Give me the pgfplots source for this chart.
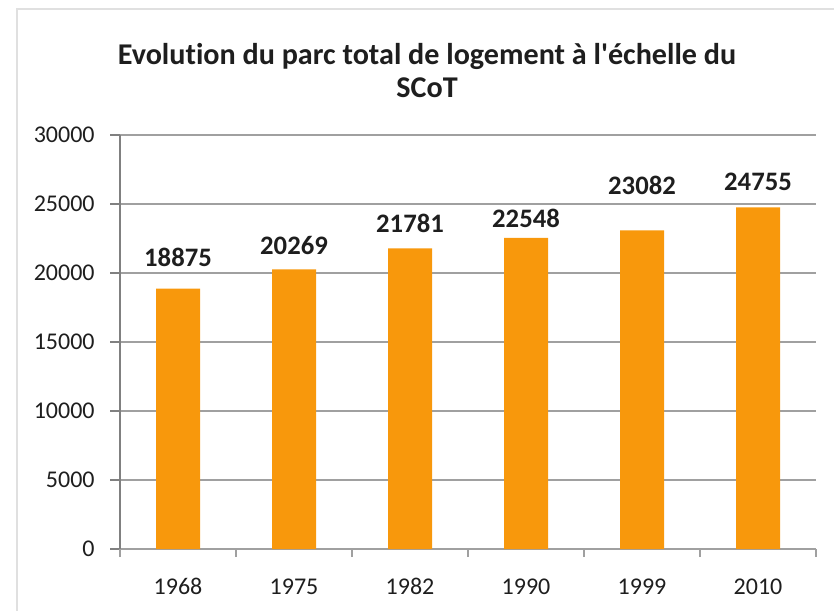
\documentclass[border=0pt]{standalone}
\usepackage{pgfplots}
\pgfplotsset{compat=1.18}
\usepackage{fontspec}
\setmainfont{Carlito}[Ligatures={NoCommon}]
\definecolor{barorange}{RGB}{248,152,12}
\definecolor{gridgray}{RGB}{160,160,160}
\definecolor{axisgray}{RGB}{128,128,128}
\definecolor{txt}{RGB}{30,30,30}
\begin{document}
\begin{tikzpicture}
\path[use as bounding box] (0,0) rectangle (625.5pt,458.25pt);
\draw[black!12, line width=1pt] (12.75pt,0) -- (12.75pt,451.5pt) -- (625.5pt,451.5pt);
\node[align=center, font=\fontsize{22.6}{24.75}\selectfont\bfseries, text=txt] at (320.25pt,405.5pt)
  {Evolution du parc total de logement à l\textquotesingle échelle du\\SCoT};
\begin{axis}[
  at={(90pt,46.5pt)}, anchor=south west,
  scale only axis, width=522pt, height=310.5pt,
  xmin=-0.5, xmax=5.5, ymin=0, ymax=30000,
  xtick={0,1,2,3,4,5},
  xticklabels={1968,1975,1982,1990,1999,2010},
  ytick={0,5000,...,30000},
  scaled y ticks=false,
  /pgf/number format/1000 sep={},
  /pgf/number format/assume math mode=true,
  ticklabel style={font=\fontsize{18}{20}\selectfont, text=txt},
  axis line style={axisgray, line width=0.9pt},
  x axis line style={gridgray},
  axis x line*=bottom, axis y line*=left,
  tick align=outside, tick pos=left,
  ymajorgrids, grid style={gridgray, line width=0.8pt},
  major tick style={axisgray, line width=0.9pt},
  major tick length=7.5pt,
  major x tick style={draw=none},
  extra x ticks={-0.5,0.5,1.5,2.5,3.5,4.5,5.5},
  extra x tick labels={},
  extra x tick style={major tick length=6pt, major x tick style={draw=gridgray, line width=0.9pt}, grid=none},
  yticklabel style={anchor=east, xshift=-8pt},
  xticklabel style={anchor=north, yshift=-10pt, text height=13pt, text depth=0pt},
  clip=false,
]
\addplot[ybar, bar width=33pt, fill=barorange, draw=none] coordinates {
  (0,18875) (1,20269) (2,21781) (3,22548) (4,23082) (5,24755)};
\addplot[draw=none, mark=none, point meta=explicit symbolic,
  nodes near coords,
  every node near coord/.style={anchor=center, text height=14pt, text depth=0pt, font=\fontsize{20}{22}\selectfont\bfseries, text=txt}]
  coordinates {
  (0,21159) [18875]
  (1,22029) [20269]
  (2,23623) [21781]
  (3,23985) [22548]
  (4,26377) [23082]
  (5,26667) [24755]};
\end{axis}
\end{tikzpicture}
\end{document}
